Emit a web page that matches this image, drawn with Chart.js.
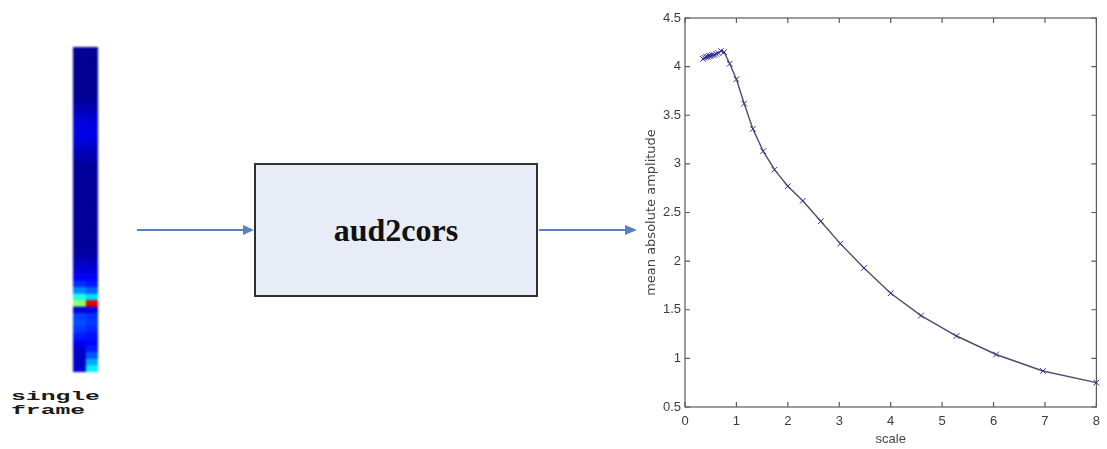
<!DOCTYPE html>
<html>
<head>
<meta charset="utf-8">
<title>aud2cors</title>
<script src="https://cdn.jsdelivr.net/npm/chart.js@4.4.1/dist/chart.umd.min.js"></script>
<style>
  html, body { margin: 0; padding: 0; background: #fff; }
  #stage { position: relative; width: 1107px; height: 449px; overflow: hidden; background: #fff; }
  #strip { position: absolute; left: 73px; top: 47px; filter: blur(1.2px); }
  #plot { position: absolute; left: 630px; top: 0; }
  .caption {
    position: absolute; left: 11px; top: 390px;
    font: bold 13px "Liberation Mono", monospace; line-height: 14px;
    transform: scaleX(1.9); transform-origin: 0 0; color: #1a1a1a; white-space: pre;
  }
  #block {
    position: absolute; left: 254px; top: 163px; width: 280px; height: 130px;
    border: 2px solid #303030; background: #e8ecf7;
    display: flex; align-items: center; justify-content: center;
    font: bold 32px "Liberation Serif", serif; color: #111;
  }
  svg { position: absolute; left: 0; top: 0; }
</style>
</head>
<body>
<div id="stage">
  <canvas id="strip" width="25" height="325"></canvas>
  <div class="caption">single
frame</div>
  <svg width="1107" height="449">
    <line x1="137" y1="230" x2="246" y2="230" stroke="#5582c2" stroke-width="2"/>
    <polygon points="243,225 254,230 243,235" fill="#5582c2"/>
    <line x1="539" y1="230" x2="628" y2="230" stroke="#5582c2" stroke-width="2"/>
    <polygon points="625,225 637,230 625,235" fill="#5582c2"/>
  </svg>
  <div id="block">aud2cors</div>
  <canvas id="plot" width="477" height="449"></canvas>
</div>

<script>
// Single analysis frame: normalised energy per row (top to bottom), two columns.
const frameLeft = [
  0.02, 0.02, 0.02, 0.02, 0.02, 0.02, 0.02, 0.02, 0.03, 0.05,
  0.07, 0.09, 0.10, 0.10, 0.09, 0.07, 0.05, 0.04, 0.025, 0.025,
  0.025, 0.025, 0.025, 0.025, 0.025, 0.025, 0.025, 0.025, 0.025, 0.025,
  0.025, 0.03, 0.05, 0.07, 0.09, 0.12, 0.17, 0.26, 0.40, 0.52,
  0.09, 0.19, 0.20, 0.18, 0.15, 0.12, 0.08, 0.07, 0.07, 0.08
];
const frameRight = [
  0.02, 0.02, 0.02, 0.02, 0.02, 0.02, 0.02, 0.02, 0.03, 0.05,
  0.07, 0.09, 0.10, 0.10, 0.09, 0.07, 0.05, 0.04, 0.025, 0.025,
  0.025, 0.025, 0.025, 0.025, 0.025, 0.025, 0.025, 0.025, 0.025, 0.025,
  0.025, 0.03, 0.05, 0.07, 0.09, 0.12, 0.15, 0.22, 0.34, 0.90,
  0.10, 0.17, 0.18, 0.16, 0.14, 0.13, 0.15, 0.21, 0.29, 0.36
];

// aud2cors output: mean absolute amplitude against scale.
const scaleValues = [
  0.35, 0.38, 0.41, 0.44, 0.47, 0.50, 0.53, 0.57, 0.61, 0.65, 0.70, 0.76,
  0.87, 1.00, 1.15, 1.32, 1.52, 1.74, 2.00, 2.29, 2.64, 3.02, 3.48, 4.00,
  4.59, 5.28, 6.05, 6.96, 8.00
];
const meanAmplitude = [
  4.08, 4.09, 4.10, 4.10, 4.11, 4.11, 4.12, 4.12, 4.13, 4.14, 4.16, 4.15,
  4.03, 3.87, 3.62, 3.36, 3.13, 2.94, 2.77, 2.62, 2.41, 2.18, 1.93, 1.67,
  1.44, 1.23, 1.04, 0.87, 0.75
];

const xRange = [0, 8];
const yRange = [0.5, 4.5];

// MATLAB-style "jet" colour map.
function jet(v) {
  const c = t => Math.max(0, Math.min(1, t));
  const r = c(Math.min(4 * v - 1.5, -4 * v + 4.5));
  const g = c(Math.min(4 * v - 0.5, -4 * v + 3.5));
  const b = c(Math.min(4 * v + 0.5, -4 * v + 2.5));
  return `rgb(${Math.round(r * 255)},${Math.round(g * 255)},${Math.round(b * 255)})`;
}

const rowLabels = frameLeft.map((_, i) => String(i + 1));

new Chart(document.getElementById('strip'), {
  type: 'bar',
  data: {
    labels: rowLabels,
    datasets: [
      {
        data: frameLeft.map(() => [0, 1]),
        backgroundColor: frameLeft.map(jet),
        grouped: false, borderWidth: 0, barPercentage: 1, categoryPercentage: 1
      },
      {
        data: frameRight.map(() => [1, 2]),
        backgroundColor: frameRight.map(jet),
        grouped: false, borderWidth: 0, barPercentage: 1, categoryPercentage: 1
      }
    ]
  },
  options: {
    indexAxis: 'y',
    responsive: false,
    animation: false,
    events: [],
    layout: { padding: 0 },
    plugins: { legend: { display: false }, tooltip: { enabled: false } },
    scales: {
      x: { display: false, min: 0, max: 2 },
      y: { display: false }
    }
  }
});

// Axes box with inward tick marks on all four sides.
const boxedAxes = {
  id: 'boxedAxes',
  beforeDatasetsDraw(chart) {
    const { ctx, chartArea: a, scales: { x, y } } = chart;
    const len = 5;
    ctx.save();
    ctx.strokeStyle = '#5a5a5a';
    ctx.lineWidth = 1.2;
    ctx.strokeRect(a.left, a.top, a.right - a.left, a.bottom - a.top);
    ctx.beginPath();
    x.ticks.forEach(t => {
      const p = x.getPixelForValue(t.value);
      ctx.moveTo(p, a.bottom); ctx.lineTo(p, a.bottom - len);
      ctx.moveTo(p, a.top); ctx.lineTo(p, a.top + len);
    });
    y.ticks.forEach(t => {
      const p = y.getPixelForValue(t.value);
      ctx.moveTo(a.left, p); ctx.lineTo(a.left + len, p);
      ctx.moveTo(a.right, p); ctx.lineTo(a.right - len, p);
    });
    ctx.stroke();
    ctx.restore();
  }
};

new Chart(document.getElementById('plot'), {
  type: 'scatter',
  data: {
    datasets: [{
      data: scaleValues.map((s, i) => ({ x: s, y: meanAmplitude[i] })),
      showLine: true,
      borderColor: '#4d4d70',
      borderWidth: 1.4,
      pointStyle: 'crossRot',
      pointRadius: 4,
      pointBorderWidth: 1,
      pointBorderColor: '#2e2e94',
      pointBackgroundColor: '#2e2e94',
      tension: 0,
      clip: false
    }]
  },
  options: {
    responsive: false,
    animation: false,
    events: [],
    layout: { padding: { top: 18, right: 7, left: 0, bottom: 0 } },
    plugins: { legend: { display: false }, tooltip: { enabled: false } },
    scales: {
      x: {
        type: 'linear', min: xRange[0], max: xRange[1],
        grid: { display: false, drawTicks: false },
        border: { display: false },
        ticks: {
          stepSize: 1, padding: 7, color: '#3c3c3c',
          font: { family: 'Liberation Sans', size: 13 },
          maxRotation: 0,
          callback: v => String(v)
        },
        title: {
          display: true, text: 'scale', color: '#444',
          font: { family: 'Liberation Sans', size: 13 },
          padding: { top: 0, bottom: 2 }
        },
        afterFit: s => { s.height = 42; }
      },
      y: {
        type: 'linear', min: yRange[0], max: yRange[1],
        grid: { display: false, drawTicks: false },
        border: { display: false },
        ticks: {
          stepSize: 0.5, padding: 4, color: '#3c3c3c',
          font: { family: 'Liberation Sans', size: 13 },
          callback: v => String(v)
        },
        title: {
          display: true, text: 'mean absolute amplitude', color: '#444',
          font: { family: 'DejaVu Sans', size: 13 },
          padding: { top: 14, bottom: 0 }
        },
        afterFit: s => { s.width = 55; }
      }
    }
  },
  plugins: [boxedAxes]
});
</script>
</body>
</html>
